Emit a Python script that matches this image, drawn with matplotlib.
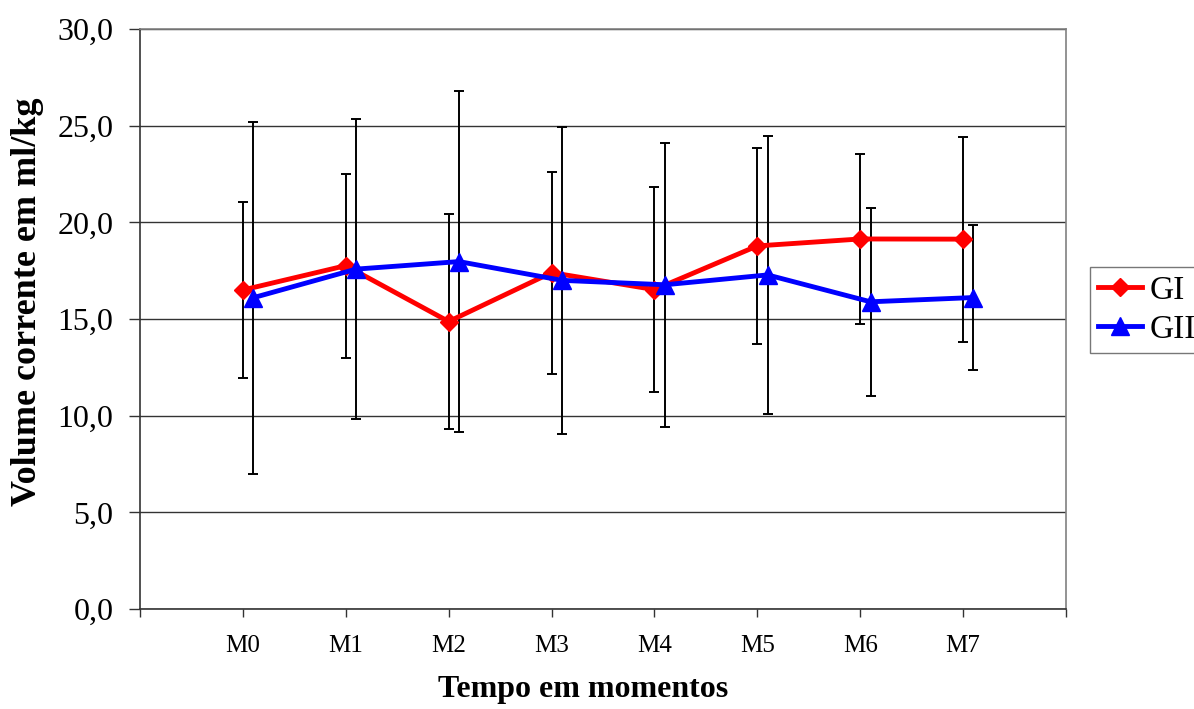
import matplotlib
matplotlib.use("Agg")
import matplotlib.pyplot as plt
import numpy as np

categories = ["M0", "M1", "M2", "M3", "M4", "M5", "M6", "M7"]
gi_mean = [16.5, 17.76, 14.87, 17.40, 16.52, 18.78, 19.14, 19.13]
gi_err = [4.53, 4.76, 5.56, 5.22, 5.31, 5.06, 4.38, 5.30]
gii_mean = [16.1, 17.58, 17.97, 17.0, 16.77, 17.28, 15.89, 16.11]
gii_err = [9.1, 7.75, 8.83, 7.93, 7.35, 7.2, 4.87, 3.75]
yticks = [0, 5, 10, 15, 20, 25, 30]

plt.rcParams['font.family'] = ['Liberation Serif', 'DejaVu Serif']

W, H = 1194, 709
fig = plt.figure(figsize=(W / 100, H / 100), dpi=100)
ax = fig.add_axes([140 / W, 1 - 609 / H, (1066 - 140) / W, (609 - 29) / H])

x = np.arange(1, len(categories) + 1)
off = 0.1

ax.errorbar(x, gi_mean, yerr=gi_err, fmt='none', ecolor='black', elinewidth=1.4,
            capsize=3.6, capthick=1.4, zorder=2)
ax.errorbar(x + off, gii_mean, yerr=gii_err, fmt='none', ecolor='black', elinewidth=1.4,
            capsize=3.6, capthick=1.4, zorder=2)
ax.plot(x, gi_mean, color='#ff0000', lw=3.5, marker='D', ms=9, label='GI', zorder=3)
ax.plot(x + off, gii_mean, color='#0000ff', lw=3.5, marker='^', ms=13, label='GII', zorder=4)

ax.set_xlim(0, 9)
ax.set_ylim(0, 30)
ax.set_yticks(yticks)
ax.set_yticklabels([f"{v:.1f}".replace('.', ',') for v in yticks], fontsize=23)
ax.set_xticks(np.arange(0, 10))
ax.set_xticklabels([""] + categories + [""], fontsize=18)
ax.tick_params(axis='y', direction='out', length=8, width=1, pad=11, color='#333333')
ax.tick_params(axis='x', direction='out', length=6, width=1, pad=13, color='#333333')
ax.grid(axis='y', color='#333333', lw=1)
ax.set_axisbelow(True)
for s in ['top', 'right']:
    ax.spines[s].set_color('#808080')
    ax.spines[s].set_linewidth(1.2)
for s in ['left', 'bottom']:
    ax.spines[s].set_color('#333333')
    ax.spines[s].set_linewidth(1.2)

ax.set_ylabel("Volume corrente em ml/kg", fontsize=26, fontweight='bold')
ax.yaxis.set_label_coords(-0.104, 0.529)
ax.set_xlabel("Tempo em momentos", fontsize=23, fontweight='bold')
ax.xaxis.set_label_coords(0.478, -0.113)

leg = fig.legend(loc='center left', bbox_to_anchor=(1090 / W, 1 - 310 / H), fontsize=24,
                 frameon=True, fancybox=False, edgecolor='#555555', handlelength=1.3,
                 handletextpad=0.25, borderpad=0.25, labelspacing=0.25, borderaxespad=0)
leg.get_frame().set_linewidth(1)

fig.savefig("out.png", dpi=100)
